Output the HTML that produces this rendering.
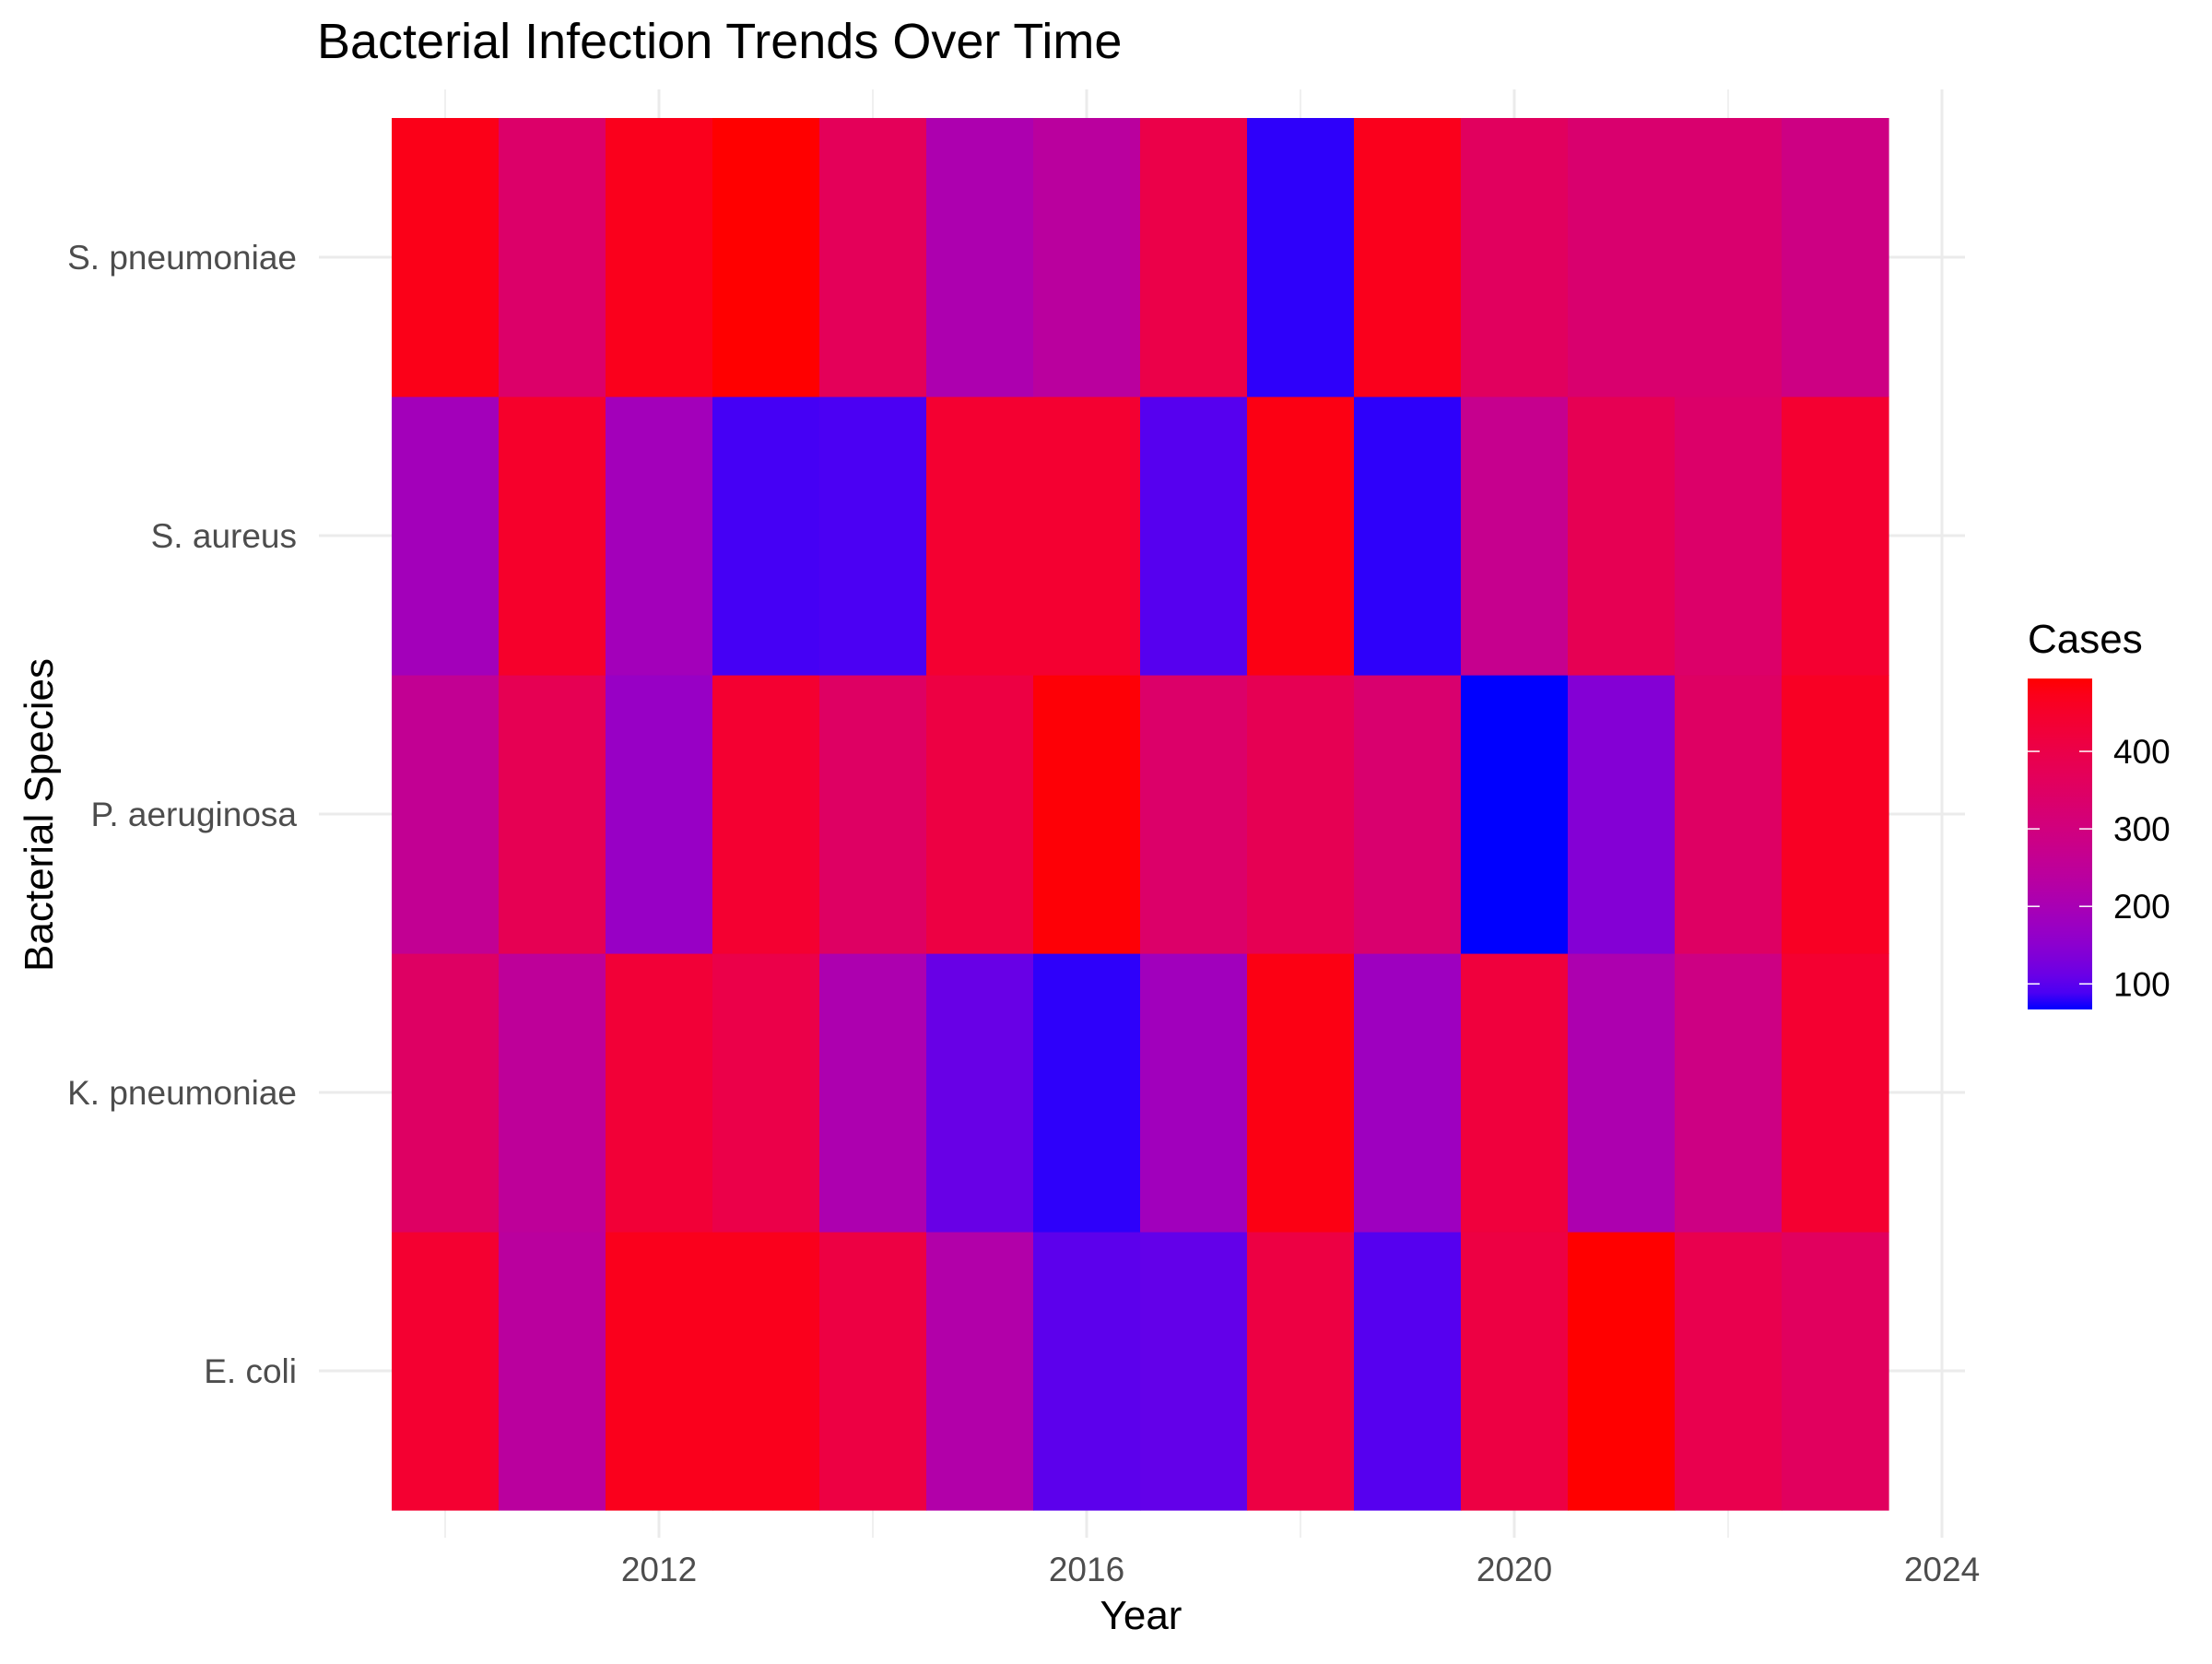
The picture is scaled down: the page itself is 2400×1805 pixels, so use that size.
<!DOCTYPE html>
<html><head><meta charset="utf-8"><style>
html,body{margin:0;padding:0;background:#fff;}
svg text{font-family:"Liberation Sans",Arial,sans-serif;}
</style></head><body>
<svg id="chart" width="2400" height="1800" viewBox="0 0 2400 1800" xmlns="http://www.w3.org/2000/svg">
<rect width="2400" height="1800" fill="#fff"/>
<text x="344" y="63" font-size="54" fill="#000">Bacterial Infection Trends Over Time</text>
<g id="grid"></g><g id="tiles"></g><g id="axes"></g><g id="legend"></g>
<text x="1238" y="1767" font-size="44" text-anchor="middle">Year</text>
<text transform="translate(57,884) rotate(-90)" font-size="44" text-anchor="middle">Bacterial Species</text>
</svg>
<script>
const years = [2010,2011,2012,2013,2014,2015,2016,2017,2018,2019,2020,2021,2022,2023];
const species = ["E. coli","K. pneumoniae","P. aeruginosa","S. aureus","S. pneumoniae"];
const ecoli = [440,240,470,470,410,220,100,105,410,95,410,494,390,360];
const kpneu = [350,250,430,400,210,110,75,185,480,180,420,210,290,440];
const paer  = [260,380,170,440,350,410,490,340,380,330,67,140,350,460];
const saur  = [190,450,190,85,88,440,440,95,480,75,270,380,340,440];
const spneu = [475,340,470,494,370,210,240,400,75,470,360,330,330,290];
const xTicks = [2012,2016,2020,2024];
const legendTicks = [100,200,300,400];
const series = [ecoli,kpneu,paer,saur,spneu];
const vmin = 67, vmax = 494;

const NS="http://www.w3.org/2000/svg";
function mk(tag,attrs,parent){const e=document.createElementNS(NS,tag);for(const k in attrs)e.setAttribute(k,attrs[k]);parent.appendChild(e);return e;}
const colW=116, x2010=483;
const xS = y => x2010 + (y-2010)*colW;
const rowH=302, yEcoli=1487;
const yS = i => yEcoli - i*rowH;

function s2l(c){c/=255;return c<=0.04045?c/12.92:Math.pow((c+0.055)/1.055,2.4);}
function l2s(c){c=c<=0.0031308?12.92*c:1.055*Math.pow(c,1/2.4)-0.055;return Math.max(0,Math.min(255,Math.round(c*255)));}
const Xn=0.95047,Yn=1,Zn=1.08883;
function f(t){return t>0.008856?Math.cbrt(t):7.787*t+16/116;}
function fi(t){return t>0.206893?t*t*t:(t-16/116)/7.787;}
function toLab(r,g,b){r=s2l(r);g=s2l(g);b=s2l(b);
 const X=(0.4124*r+0.3576*g+0.1805*b)/Xn,Y=(0.2126*r+0.7152*g+0.0722*b)/Yn,Z=(0.0193*r+0.1192*g+0.9505*b)/Zn;
 return [116*f(Y)-16,500*(f(X)-f(Y)),200*(f(Y)-f(Z))];}
function fromLab(L,a,b){const fy=(L+16)/116,fx=fy+a/500,fz=fy-b/200;
 const X=fi(fx)*Xn,Y=fi(fy)*Yn,Z=fi(fz)*Zn;
 const r=3.2406*X-1.5372*Y-0.4986*Z,g=-0.9689*X+1.8758*Y+0.0415*Z,bb=0.0557*X-0.2040*Y+1.0570*Z;
 return `rgb(${l2s(r)},${l2s(g)},${l2s(bb)})`;}
const lo=toLab(0,0,255), hi=toLab(255,0,0);
function col(v){const t=Math.max(0,Math.min(1,(v-vmin)/(vmax-vmin)));
 return fromLab(lo[0]+(hi[0]-lo[0])*t,lo[1]+(hi[1]-lo[1])*t,lo[2]+(hi[2]-lo[2])*t);}

const grid=document.getElementById('grid');
for(let y=2010;y<=2024;y+=2){
 const l=mk('line',{x1:xS(y),x2:xS(y),y1:97,y2:1668,stroke:'#ebebeb','stroke-width':y%4===0?3:1.5},grid);
 
 
}
species.forEach((s,i)=>{
 const l=mk('line',{x1:346,x2:2132,y1:yS(i),y2:yS(i),stroke:'#ebebeb','stroke-width':3},grid);
 
 
});
const tiles=document.getElementById('tiles');
series.forEach((arr,i)=>{arr.forEach((v,j)=>{
 const r=mk('rect',{x:xS(years[j])-colW/2,y:yS(i)-rowH/2,width:colW+0.6,height:rowH+0.6,fill:col(v)},tiles);
 
 
});});
const axes=document.getElementById('axes');
xTicks.forEach(t=>{
 const tx=mk('text',{x:xS(t),y:1715,'font-size':37,fill:'#4d4d4d','text-anchor':'middle'},axes);
 tx.textContent=t;
 
 
});
species.forEach((s,i)=>{
 const tx=mk('text',{x:322,y:yS(i)+13,'font-size':37,fill:'#4d4d4d','text-anchor':'end'},axes);
 tx.textContent=s;
 
 
});
const lg=document.getElementById('legend');
const lt=mk('text',{x:2200,y:708,'font-size':44},lg);
lt.textContent='Cases';


const defs=mk('defs',{},lg);
const grad=mk('linearGradient',{id:'lg',x1:0,y1:1,x2:0,y2:0},defs);
for(let k=0;k<=20;k++){mk('stop',{offset:k/20,'stop-color':col(vmin+(vmax-vmin)*k/20)},grad);}
const barTop=736,barBot=1095;
const lv=v=>barBot-(v-vmin)/(vmax-vmin)*(barBot-barTop);
const bar=mk('rect',{x:2200,y:barTop,width:70,height:barBot-barTop,fill:'url(#lg)'},lg);


legendTicks.forEach(t=>{
 mk('line',{x1:2200,x2:2213,y1:lv(t),y2:lv(t),stroke:'#fff','stroke-width':1.5},lg);
 mk('line',{x1:2256,x2:2270,y1:lv(t),y2:lv(t),stroke:'#fff','stroke-width':1.5},lg);
 const tx=mk('text',{x:2293,y:lv(t)+13,'font-size':37},lg);
 tx.textContent=t;
 
 
});
</script>
</body></html>
